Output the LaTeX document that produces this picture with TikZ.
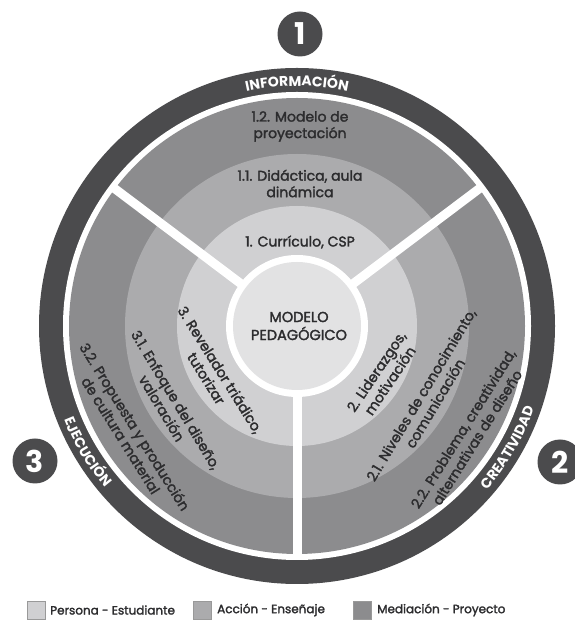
\documentclass[tikz,border=0pt]{standalone}
\usepackage{fontspec}
\setmainfont{Poppins}
\newfontfamily\labfont{Poppins}[FakeBold=2]
\usetikzlibrary{calc,decorations.text}
\definecolor{ringdark}{HTML}{4B4B4D}
\definecolor{medcol}{HTML}{8C8C8E}
\definecolor{acccol}{HTML}{ABABAD}
\definecolor{percol}{HTML}{D0D0D2}
\definecolor{corecol}{HTML}{E2E2E3}
\definecolor{inkcol}{HTML}{2C2C2E}
\newcommand{\ringfont}{\fontsize{14}{14}\selectfont\bfseries}
\begin{document}
\begin{tikzpicture}[x=1pt,y=1pt,
  lbl/.style={text=inkcol, align=center, font=\fontsize{14}{16.5}\selectfont\labfont, inner sep=0pt},
  corelbl/.style={text=inkcol, align=center, font=\fontsize{14.5}{18}\selectfont\labfont, inner sep=0pt},
  badge/.style={circle, fill=ringdark, minimum size=45pt, inner sep=0pt, text=white, font=\fontsize{30}{30}\selectfont\bfseries},
  spoke/.style={white, line width=9pt},
  keybox/.style={draw=gray!80, fill=#1, minimum size=18pt, inner sep=0pt},
  keytxt/.style={anchor=west, text=inkcol, font=\fontsize{12}{14}\selectfont\labfont, inner sep=0pt}
]
\useasboundingbox (0,0) rectangle (574,621);
\coordinate (C) at (297,295);

% concentric rings
\fill[ringdark] (C) circle[radius=258];
\fill[white] (C) circle[radius=234];
\fill[medcol] (C) circle[radius=228];
\fill[acccol] (C) circle[radius=172];
\fill[percol] (C) circle[radius=120];

% white separators between the three sectors
\coordinate (s1) at ($(C)+(143:230)$);
\coordinate (s2) at ($(C)+(37:230)$);
\coordinate (s3) at ($(C)+(270:230)$);
\draw[spoke] (C) -- (s1);
\draw[spoke] (C) -- (s2);
\draw[spoke] (C) -- (s3);

% core
\fill[white] (C) circle[radius=71];
\fill[corecol] (C) circle[radius=64];
\node[corelbl] (core) at (299,295) {MODELO\\PEDAGÓGICO};

% ring titles
\path[decorate, decoration={text along path, text align=center,
  text={|\ringfont\color{white}|INFORMACIÓN}}]
  ($(C)+(130:240)$) arc[start angle=130, end angle=50, radius=240];
\path[decorate, decoration={text along path, text align=center,
  text={|\ringfont\color{white}|EJECUCIÓN}}]
  ($(C)+(186:251)$) arc[start angle=186, end angle=236, radius=251];
\path[decorate, decoration={text along path, text align=center,
  text={|\ringfont\color{white}|CREATIVIDAD}}]
  ($(C)+(-58:251)$) arc[start angle=-58, end angle=-2, radius=251];

% sector 1
\node[lbl] (t12) at (300,494.5) {1.2. Modelo de\\proyectación};
\node[lbl] (t11) at (300,437.5) {1.1. Didáctica, aula\\dinámica};
\node[lbl] (t1) at (300,379) {1. Currículo, CSP};

% sector 3
\node[lbl, rotate=-58] (t3) at (213.5,247) {3. Revelador triádico,\\tutorizar};
\node[lbl, rotate=-59] (t31) at (169,217) {3.1. Enfoque del diseño,\\valoración};
\node[lbl, rotate=-58] (t32) at (128,190) {3.2. Propuesta y producción\\de cultura material};

% sector 2
\node[lbl, rotate=56] (t2) at (383,245) {2. Liderazgos,\\motivación};
\node[lbl, rotate=59] (t21) at (428,222) {2.1. Niveles de conocimiento,\\comunicación};
\node[lbl, rotate=58] (t22) at (470,188) {2.2. Problema, creatividad,\\alternativas de diseño};

% numbered badges
\node[badge] (b1) at (300,587) {1};
\node[badge] (b2) at (560,159) {2};
\node[badge] (b3) at (35,160) {3};

% key
\node[keybox=percol] (k1) at (36.5,11) {};
\node[keytxt] (k1t) at (50,11) {Persona - Estudiante};
\node[keybox=acccol] (k2) at (202,11) {};
\node[keytxt] (k2t) at (217,11) {Acción - Enseñaje};
\node[keybox=medcol] (k3) at (362.5,11) {};
\node[keytxt] (k3t) at (377,11) {Mediación - Proyecto};
\end{tikzpicture}
\end{document}
